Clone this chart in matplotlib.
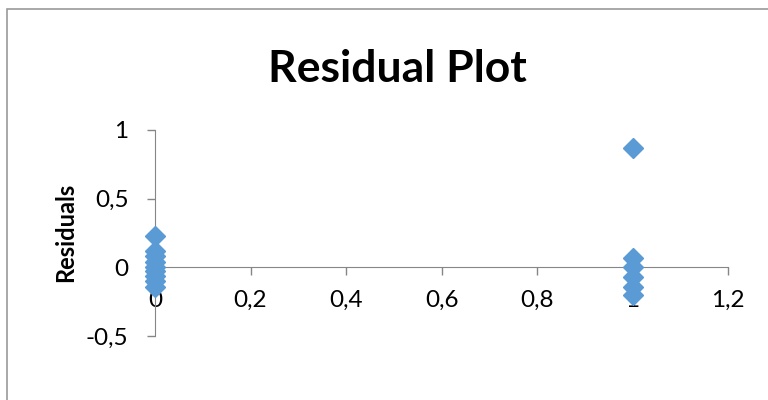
import matplotlib.pyplot as plt
import matplotlib.patches as patches
from matplotlib.ticker import FuncFormatter

# residual data
x0 = [0, 0, 0, 0, 0, 0, 0, 0, 0]
res0 = [0.23, 0.12, 0.08, 0.04, 0.0, -0.03, -0.06, -0.1, -0.14]
x1 = [1, 1, 1, 1, 1, 1]
res1 = [0.87, 0.065, 0.0, -0.07, -0.14, -0.2]

xticks = [0, 0.2, 0.4, 0.6, 0.8, 1, 1.2]
yticks = [-0.5, 0, 0.5, 1]

plt.rcParams['font.family'] = ['Lato', 'DejaVu Sans']

fig = plt.figure(figsize=(7.68, 4.0), dpi=100)
ax = fig.add_axes([155/768, 1-336/400, (728-155)/768, (336-130)/400])

axcol = '#868686'
blue = '#5B9BD5'

ax.plot(x0 + x1, res0 + res1, linestyle='none', marker='D', ms=10.5,
        color=blue, mec=blue, clip_on=False, zorder=3)

ax.set_xlim(0, 1.2)
ax.set_ylim(-0.5, 1)
ax.set_xticks(xticks)
ax.set_yticks(yticks)
comma = FuncFormatter(lambda v, p: ('%g' % v).replace('.', ','))
ax.xaxis.set_major_formatter(comma)
ax.yaxis.set_major_formatter(comma)

for s in ['top', 'right']:
    ax.spines[s].set_visible(False)
ax.spines['bottom'].set_position(('data', 0))
ax.spines['bottom'].set_color(axcol)
ax.spines['left'].set_color(axcol)
ax.tick_params(axis='x', length=6, width=1, color=axcol, pad=10, labelsize=17.5)
ax.tick_params(axis='y', length=6, width=1, color=axcol, pad=13, labelsize=17.5)

fig.text(0.518, 0.828, 'Residual Plot', ha='center', va='center',
         fontsize=32, fontweight='bold')
fig.text(66/768, 1-232/400, 'Residuals', rotation=90, ha='center', va='center',
         fontsize=17, fontweight='bold')

# chart area border (cropped at right and bottom)
border = patches.Rectangle((7/768, -0.1), 1.2, 1.1 - 9/400, transform=fig.transFigure,
                           fill=False, edgecolor='#9a9a9a', lw=1.2, clip_on=False)
fig.patches.append(border)

fig.savefig('out.png', dpi=100)
